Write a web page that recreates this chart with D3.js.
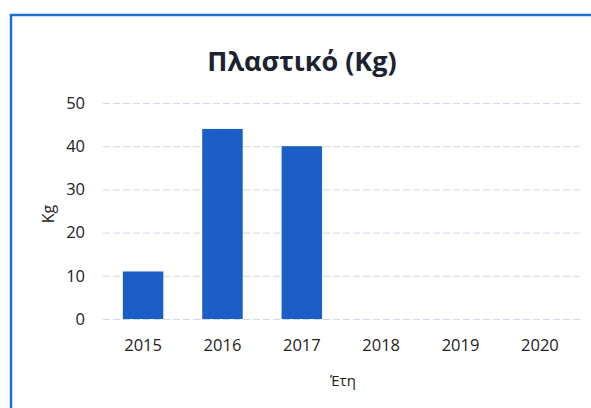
<!DOCTYPE html>
<html>
<head>
<meta charset="utf-8">
<script src="https://cdn.jsdelivr.net/npm/d3@7"></script>
<style>
  body { margin: 0; background: #fff; }
  svg { display: block; font-family: "Open Sans", "Noto Sans", sans-serif; }
</style>
</head>
<body>
<svg width="591" height="408"></svg>
<script>
// data
var years = ["2015", "2016", "2017", "2018", "2019", "2020"];
var values = [11, 44, 40, null, null, null];
var yTicks = [0, 10, 20, 30, 40, 50];

var svg = d3.select("svg"),
    margin = {top: 103, right: 11, bottom: 89, left: 103},
    width = +svg.attr("width") - margin.left - margin.right,
    height = +svg.attr("height") - margin.top - margin.bottom;

// blue frame (top and left edges show in the scan)
svg.append("path")
    .attr("d", "M11,408 V15 H591")
    .attr("fill", "none")
    .attr("stroke", "#1f6fd1")
    .attr("stroke-width", 2.5);

var g = svg.append("g").attr("transform", "translate(" + margin.left + "," + margin.top + ")");

var x = d3.scaleBand()
    .domain(years)
    .range([0, width])
    .paddingInner(0.49)
    .paddingOuter(0.25);

var y = d3.scaleLinear()
    .domain([0, 50])
    .range([height, 0]);

// gridlines
g.append("g")
    .selectAll("line")
    .data(yTicks)
    .enter().append("line")
      .attr("x1", 0)
      .attr("x2", width)
      .attr("y1", function(d) { return y(d) + 0.5; })
      .attr("y2", function(d) { return y(d) + 0.5; })
      .attr("stroke", "#cdd9e7")
      .attr("stroke-width", 1)
      .attr("stroke-dasharray", "7,3");

// bars
g.append("g")
    .selectAll("rect")
    .data(years.map(function(d, i) { return {year: d, value: values[i]}; })
      .filter(function(d) { return d.value != null; }))
    .enter().append("rect")
      .attr("x", function(d) { return x(d.year); })
      .attr("y", function(d) { return y(d.value); })
      .attr("width", x.bandwidth())
      .attr("height", function(d) { return y(0) - y(d.value); })
      .attr("fill", "#1b5ec6");

// y axis
var yAxis = g.append("g")
    .call(d3.axisLeft(y).tickValues(yTicks).tickSize(0).tickPadding(18));
yAxis.select(".domain").remove();
yAxis.selectAll("text")
    .attr("font-size", 16.5)
    .attr("font-family", "Open Sans, sans-serif")
    .attr("fill", "#222");

// x axis
var xAxis = g.append("g")
    .attr("transform", "translate(0," + height + ")")
    .call(d3.axisBottom(x).tickSize(0).tickPadding(20));
xAxis.select(".domain").remove();
xAxis.selectAll("text")
    .attr("font-size", 16.5)
    .attr("font-family", "Open Sans, sans-serif")
    .attr("fill", "#222");

// title
svg.append("text")
    .attr("x", 302)
    .attr("y", 71)
    .attr("text-anchor", "middle")
    .attr("font-size", 27)
    .attr("font-weight", "bold")
    .attr("fill", "#1b2230")
    .text("Πλαστικό (Kg)");

// axis titles
svg.append("text")
    .attr("transform", "translate(54,214) rotate(-90)")
    .attr("text-anchor", "middle")
    .attr("font-size", 16)
    .attr("fill", "#222")
    .text("Kg");

svg.append("text")
    .attr("x", 343)
    .attr("y", 386)
    .attr("text-anchor", "middle")
    .attr("font-size", 15)
    .attr("fill", "#222")
    .text("Έτη");
</script>
</body>
</html>
